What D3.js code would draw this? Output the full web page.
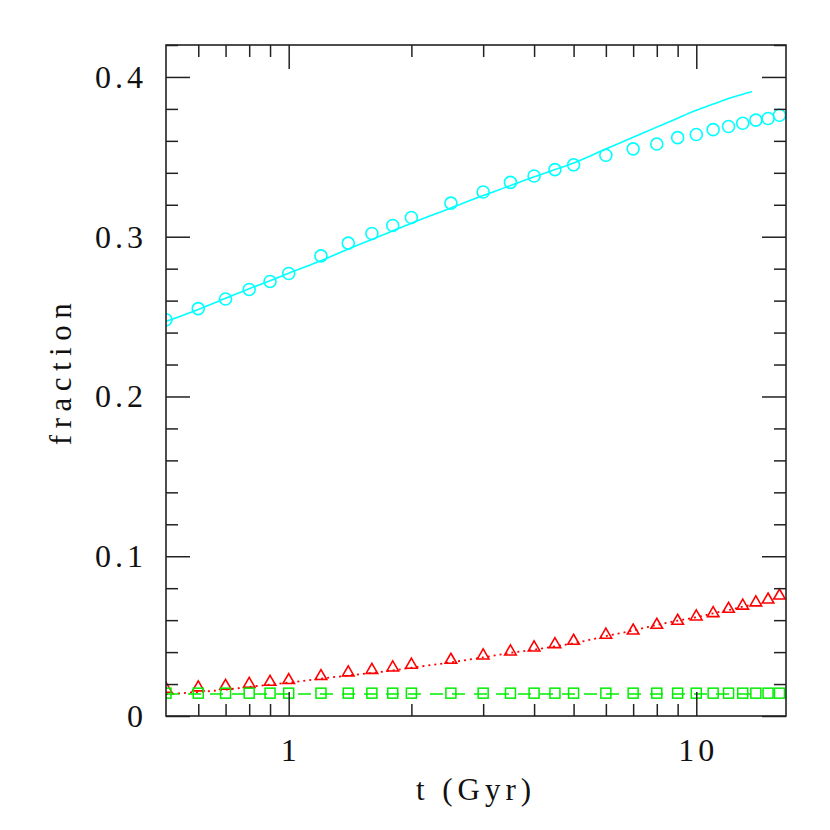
<!DOCTYPE html>
<html>
<head>
<meta charset="utf-8">
<script src="https://cdn.jsdelivr.net/npm/d3@7"></script>
<style>
  body { margin: 0; background: #fff; }
  text { font-family: "Liberation Serif", serif; fill: #111; }
</style>
</head>
<body>
<div id="chart"></div>
<script>
// simulation points
const t_sim = [0.5, 0.6, 0.7, 0.8, 0.9, 1.0, 1.2, 1.4, 1.6, 1.8, 2.0, 2.5, 3.0, 3.5, 4.0, 4.5, 5, 6, 7, 8, 9, 10, 11, 12, 13, 14, 15, 16];
const frac_circle = [0.248, 0.255, 0.261, 0.267, 0.272, 0.277, 0.288, 0.296, 0.302, 0.307, 0.312, 0.321, 0.328, 0.334, 0.338, 0.342, 0.345, 0.351, 0.355, 0.358, 0.362, 0.364, 0.367, 0.369, 0.371, 0.373, 0.374, 0.376];
const frac_triangle = [0.017, 0.0178, 0.0188, 0.020, 0.0213, 0.0224, 0.0249, 0.0272, 0.0288, 0.0303, 0.032, 0.0351, 0.0378, 0.0403, 0.0428, 0.0449, 0.047, 0.0508, 0.0534, 0.057, 0.0595, 0.0622, 0.0643, 0.067, 0.069, 0.071, 0.0728, 0.0753];
const frac_square = [0.0143, 0.0143, 0.0143, 0.0143, 0.0143, 0.0143, 0.0143, 0.0143, 0.0143, 0.0143, 0.0143, 0.0143, 0.0143, 0.0143, 0.0143, 0.0143, 0.0143, 0.0143, 0.0143, 0.0143, 0.0143, 0.0143, 0.0143, 0.0143, 0.0143, 0.0143, 0.0143, 0.0143];

// model curves
const t_model = [0.5, 0.6, 0.7, 0.8, 0.9, 1.0, 1.2, 1.5, 1.7, 2.0, 2.5, 3.0, 3.5, 4.0, 4.5, 5, 6, 7, 8, 9, 10, 11, 12, 13, 13.7];
const model_cyan = [0.2470, 0.2545, 0.2615, 0.2675, 0.2725, 0.2772, 0.285, 0.2955, 0.301, 0.3085, 0.318, 0.3258, 0.332, 0.3375, 0.342, 0.3462, 0.3549, 0.3622, 0.3686, 0.3742, 0.3791, 0.383, 0.3865, 0.3892, 0.3907];
const model_red = [0.0136, 0.0150, 0.0165, 0.0182, 0.0196, 0.0209, 0.0234, 0.0262, 0.0277, 0.0302, 0.0336, 0.0367, 0.0395, 0.0415, 0.0436, 0.0455, 0.0500, 0.0535, 0.0570, 0.0597, 0.0618, 0.0643, 0.0663, 0.0684, 0.0698];
const model_green = [0.0138, 0.0138, 0.0138, 0.0138, 0.0138, 0.0138, 0.0138, 0.0138, 0.0138, 0.0138, 0.0138, 0.0138, 0.0138, 0.0138, 0.0138, 0.0138, 0.0138, 0.0138, 0.0138, 0.0138, 0.0138, 0.0138, 0.0138, 0.0138, 0.0138];

// ticks
const x_major = [1, 10];
const x_labels = ["1", "10"];
const x_minor = [0.6, 0.7, 0.8, 0.9, 2, 3, 4, 5, 6, 7, 8, 9];
const y_major = [0, 0.1, 0.2, 0.3, 0.4];
const y_labels = ["0", "0.1", "0.2", "0.3", "0.4"];
const y_minor = [0.02, 0.04, 0.06, 0.08, 0.12, 0.14, 0.16, 0.18, 0.22, 0.24, 0.26, 0.28, 0.32, 0.34, 0.36, 0.38, 0.42];

const width = 830, height = 830;
const plot_left = 166, plot_right = 786, plot_top = 45, plot_bottom = 716;

const svg = d3.select("#chart")
   .append("svg")
   .attr("width", width)
   .attr("height", height);

const x = d3.scaleLog().domain([0.5, 16.6]).range([plot_left, plot_right]);
const y = d3.scaleLinear().domain([0, 0.42]).range([plot_bottom, plot_top]);

svg.append("clipPath").attr("id", "plot")
   .append("rect")
   .attr("x", plot_left).attr("y", plot_top)
   .attr("width", plot_right - plot_left).attr("height", plot_bottom - plot_top);

const plot = svg.append("g").attr("clip-path", "url(#plot)");

// model lines
const line = d3.line()
   .x(d => x(d[0]))
   .y(d => y(d[1]))
   .curve(d3.curveMonotoneX);

plot.append("path")
   .attr("d", line(t_model.map((t, i) => [t, model_cyan[i]])))
   .attr("fill", "none").attr("stroke", "#00ffff").attr("stroke-width", 1.6);

plot.append("path")
   .attr("d", line(t_model.map((t, i) => [t, model_red[i]])))
   .attr("fill", "none").attr("stroke", "#ff0000").attr("stroke-width", 1.8)
   .attr("stroke-dasharray", "2,4");

plot.append("path")
   .attr("d", line(t_model.map((t, i) => [t, model_green[i]])))
   .attr("fill", "none").attr("stroke", "#00ee00").attr("stroke-width", 1.6)
   .attr("stroke-dasharray", "13,9");

// markers
plot.selectAll(".circ")
   .data(t_sim)
   .enter().append("circle")
   .attr("cx", d => x(d))
   .attr("cy", (d, i) => y(frac_circle[i]))
   .attr("r", 6)
   .attr("fill", "none").attr("stroke", "#00ffff").attr("stroke-width", 1.6);

const tri = d3.symbol().type(d3.symbolTriangle).size(58);
plot.selectAll(".tri")
   .data(t_sim)
   .enter().append("path")
   .attr("d", tri)
   .attr("transform", (d, i) => "translate(" + x(d) + "," + y(frac_triangle[i]) + ")")
   .attr("fill", "none").attr("stroke", "#ff0000").attr("stroke-width", 1.6);

plot.selectAll(".sq")
   .data(t_sim)
   .enter().append("rect")
   .attr("x", d => x(d) - 5)
   .attr("y", (d, i) => y(frac_square[i]) - 5)
   .attr("width", 10).attr("height", 10)
   .attr("fill", "none").attr("stroke", "#00ee00").attr("stroke-width", 1.5);

// axes, ticks pointing inward
function style_axis(g) {
   g.select(".domain").remove();
   g.selectAll(".tick line").attr("stroke", "#222").attr("stroke-width", 1.5);
}

svg.append("g").attr("transform", "translate(0," + plot_bottom + ")")
   .call(d3.axisBottom(x).tickValues(x_major).tickSize(-24).tickFormat("")).call(style_axis);
svg.append("g").attr("transform", "translate(0," + plot_bottom + ")")
   .call(d3.axisBottom(x).tickValues(x_minor).tickSize(-12).tickFormat("")).call(style_axis);
svg.append("g").attr("transform", "translate(0," + plot_top + ")")
   .call(d3.axisTop(x).tickValues(x_major).tickSize(-24).tickFormat("")).call(style_axis);
svg.append("g").attr("transform", "translate(0," + plot_top + ")")
   .call(d3.axisTop(x).tickValues(x_minor).tickSize(-12).tickFormat("")).call(style_axis);

svg.append("g").attr("transform", "translate(" + plot_left + ",0)")
   .call(d3.axisLeft(y).tickValues(y_major).tickSize(-24).tickFormat("")).call(style_axis);
svg.append("g").attr("transform", "translate(" + plot_left + ",0)")
   .call(d3.axisLeft(y).tickValues(y_minor).tickSize(-12).tickFormat("")).call(style_axis);
svg.append("g").attr("transform", "translate(" + plot_right + ",0)")
   .call(d3.axisRight(y).tickValues(y_major).tickSize(-24).tickFormat("")).call(style_axis);
svg.append("g").attr("transform", "translate(" + plot_right + ",0)")
   .call(d3.axisRight(y).tickValues(y_minor).tickSize(-12).tickFormat("")).call(style_axis);

// frame
svg.append("rect")
   .attr("x", plot_left).attr("y", plot_top)
   .attr("width", plot_right - plot_left).attr("height", plot_bottom - plot_top)
   .attr("fill", "none").attr("stroke", "#222").attr("stroke-width", 1.6);

// tick labels
svg.selectAll(".xlab")
   .data(x_major)
   .enter().append("text")
   .attr("x", d => x(d) + 2)
   .attr("y", 761)
   .attr("text-anchor", "middle")
   .attr("font-size", 32)
   .attr("letter-spacing", 4)
   .text((d, i) => x_labels[i]);

svg.selectAll(".ylab")
   .data(y_major)
   .enter().append("text")
   .attr("x", 147)
   .attr("y", d => y(d) + 11)
   .attr("text-anchor", "end")
   .attr("font-size", 32)
   .attr("letter-spacing", 4)
   .text((d, i) => y_labels[i]);

// axis titles
svg.append("text")
   .attr("x", 476)
   .attr("y", 800)
   .attr("text-anchor", "middle")
   .attr("font-size", 31)
   .attr("letter-spacing", 5)
   .text("t (Gyr)");

svg.append("text")
   .attr("transform", "translate(71,371) rotate(-90)")
   .attr("text-anchor", "middle")
   .attr("font-size", 31)
   .attr("letter-spacing", 6.5)
   .text("fraction");
</script>
</body>
</html>
